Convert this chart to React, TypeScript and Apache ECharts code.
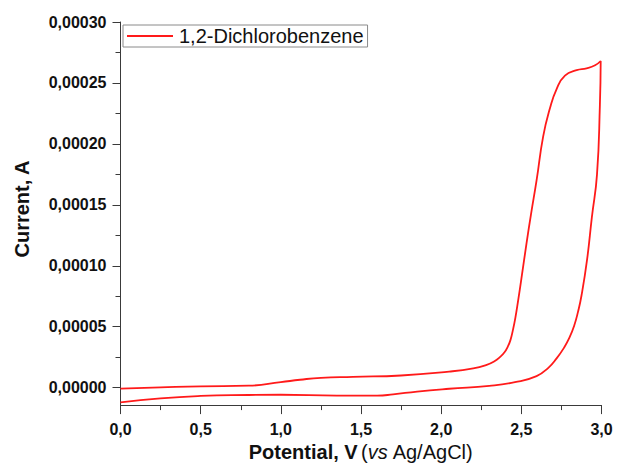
import React, { useEffect, useRef } from "react";
import * as echarts from "echarts";

const seriesName = "1,2-Dichlorobenzene";

// Potential (V vs Ag/AgCl), scanned forward then back
const potential = [
  0, 0.25, 0.5, 0.8, 1.0, 1.12, 1.25, 1.45, 1.75, 2.05, 2.2, 2.28, 2.33, 2.37, 2.395, 2.415, 2.432, 2.447, 2.463,
  2.48, 2.5, 2.533, 2.56, 2.595, 2.636, 2.678, 2.72, 2.772, 2.845, 2.907, 2.96, 2.995,
  2.99, 2.972, 2.94, 2.91, 2.875, 2.853, 2.83, 2.8, 2.765, 2.72, 2.67, 2.595, 2.46, 2.3, 2.05, 1.85, 1.7, 1.6, 1.35,
  1.0, 0.8, 0.5, 0.25, 0.0,
];

// Current (A)
const current = [
  -0.0000008, 0.0000002, 0.0000011, 0.0000016, 0.0000045, 0.0000065, 0.0000081, 0.0000089, 0.00001, 0.0000132,
  0.0000158, 0.0000185, 0.0000215, 0.0000255, 0.000029, 0.0000335, 0.000039, 0.000047, 0.0000575,
  0.0000715, 0.000089, 0.000119, 0.000142, 0.00017, 0.000206, 0.000229, 0.000245, 0.000256, 0.0002605, 0.000262,
  0.0002645, 0.000268,
  0.000232, 0.000175, 0.00014, 0.000105, 0.0000754, 0.000062, 0.000051, 0.000041, 0.0000325, 0.000024, 0.0000165,
  0.0000095, 0.0000045, 0.0000015, -0.0000009, -0.0000032, -0.0000055, -0.0000065, -0.0000065, -0.0000058,
  -0.000006, -0.0000068, -0.0000087, -0.0000121,
];

const yTickValues = [0, 0.00005, 0.0001, 0.00015, 0.0002, 0.00025, 0.0003];
const yMinorValues = [0.000025, 0.000075, 0.000125, 0.000175, 0.000225, 0.000275];

const FONT = "'Liberation Sans', Arial, sans-serif";
const AXIS_COLOR = "#3a3a3a";

export default function App() {
  const ref = useRef<HTMLDivElement>(null);

  useEffect(() => {
    if (!ref.current) return;
    const chart = echarts.init(ref.current, undefined, { renderer: "svg" });
    const data = potential.map((p, i) => [p, current[i]]);
    const yMin = -0.0000143;
    const yMax = 0.0003;

    chart.setOption({
      animation: false,
      backgroundColor: "#ffffff",
      grid: { left: 120.5, right: 15.5, top: 22, bottom: 56 },
      legend: {
        left: 123,
        top: 25,
        padding: [1, 4, 1, 4],
        borderColor: "#8a8a8a",
        borderWidth: 1,
        backgroundColor: "#ffffff",
        icon: "rect",
        itemWidth: 46,
        itemHeight: 2,
        itemGap: 6,
        textStyle: { fontFamily: FONT, fontSize: 20, color: "#111", padding: [0, 0, 0, 1] },
        data: [seriesName],
      },
      xAxis: {
        type: "value",
        min: 0,
        max: 3,
        interval: 0.5,
        name: "{b|Potential, V} {r|(}{i|vs}{r| Ag/AgCl)}",
        nameLocation: "middle",
        nameGap: 36,
        nameTextStyle: {
          rich: {
            b: { fontFamily: FONT, fontSize: 20, fontWeight: "bold", color: "#111" },
            r: { fontFamily: FONT, fontSize: 20, color: "#111" },
            i: { fontFamily: FONT, fontSize: 20, fontStyle: "italic", color: "#111" },
          },
        },
        axisLine: { show: true, onZero: false, lineStyle: { color: AXIS_COLOR, width: 1 } },
        axisTick: { show: true, inside: false, length: 9, lineStyle: { color: AXIS_COLOR, width: 1 } },
        minorTick: { show: true, splitNumber: 2, length: 5, lineStyle: { color: AXIS_COLOR, width: 1 } },
        axisLabel: {
          margin: 16,
          fontFamily: FONT,
          fontSize: 16,
          fontWeight: "bold",
          color: "#111",
          formatter: (v: number) => v.toFixed(1).replace(".", ","),
        },
        splitLine: { show: false },
      },
      yAxis: [
        {
          type: "value",
          min: yMin,
          max: yMax,
          axisLine: { show: true, onZero: false, lineStyle: { color: AXIS_COLOR, width: 1 } },
          axisTick: {
            show: true,
            inside: false,
            length: 8,
            customValues: yTickValues,
            lineStyle: { color: AXIS_COLOR, width: 1 },
          },
          minorTick: { show: false },
          axisLabel: {
            margin: 14,
            fontFamily: FONT,
            fontSize: 16,
            fontWeight: "bold",
            color: "#111",
            customValues: yTickValues,
            formatter: (v: number) => v.toFixed(5).replace(".", ","),
          },
          splitLine: { show: false },
        },
        {
          type: "value",
          min: yMin,
          max: yMax,
          position: "left",
          axisLine: { show: false },
          axisTick: {
            show: true,
            inside: false,
            length: 5,
            customValues: yMinorValues,
            lineStyle: { color: AXIS_COLOR, width: 1 },
          },
          axisLabel: { show: false, customValues: yMinorValues },
          splitLine: { show: false },
        },
      ],
      graphic: [
        {
          type: "text",
          x: 22,
          y: 209,
          rotation: Math.PI / 2,
          style: {
            text: "Current, A",
            font: `bold 20px ${FONT}`,
            fill: "#111",
            align: "center",
            verticalAlign: "middle",
          },
        },
      ],
      series: [
        {
          name: seriesName,
          type: "line",
          data,
          showSymbol: false,
          smooth: 0.5,
          lineStyle: { color: "#ff1a1a", width: 1.8 },
          itemStyle: { color: "#ff1a1a" },
        },
      ],
    });

    return () => chart.dispose();
  }, []);

  return (
    <div
      ref={ref}
      style={{ position: "fixed", left: 0, top: 0, width: 617, height: 467, background: "#fff" }}
    />
  );
}
